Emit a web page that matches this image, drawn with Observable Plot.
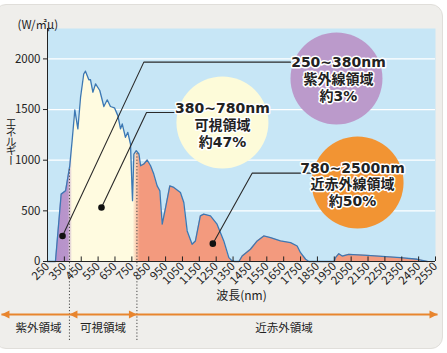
<!DOCTYPE html>
<html><head><meta charset="utf-8">
<script src="https://cdn.jsdelivr.net/npm/d3@7"></script>
<script src="https://cdn.jsdelivr.net/npm/@observablehq/plot@0.6"></script>
<style>
body{margin:0;background:#fff;font-family:"Noto Sans CJK JP","Noto Sans",sans-serif;}
#wrap{position:relative;width:447px;height:353px;overflow:hidden;background:#fff;}
#card{position:absolute;left:-6px;top:4px;width:449px;height:345px;border-radius:12px;background:#efeeeb;border:1px solid #e0deda;box-sizing:border-box;}
#chart{position:absolute;left:0;top:0;}
#ylab{position:absolute;left:5px;top:117px;writing-mode:vertical-rl;font-size:11px;color:#222;letter-spacing:-1.5px;line-height:11px;font-family:"Noto Sans CJK JP",sans-serif;}
</style></head><body>
<div id="wrap"><div id="card"></div><div id="chart"></div><div id="ylab">エネルギー</div></div>
<script>
// Spectrum (wavelength nm, energy W/㎡μ)
const wavelength = [250, 297, 331, 357, 382, 396, 412, 430, 446, 465, 475, 495, 505, 519, 535, 560, 584, 604, 623, 647, 667, 683, 693, 712, 726, 742, 748, 754, 762, 776, 792, 802, 821, 841, 861, 880, 900, 916, 930, 950, 975, 999, 1038, 1058, 1078, 1107, 1127, 1156, 1176, 1216, 1255, 1295, 1325, 1345, 1360, 1385, 1404, 1453, 1493, 1532, 1572, 1631, 1691, 1730, 1750, 1780, 1800, 1950, 1957, 1977, 1997, 2036, 2145, 2343, 2442, 2501];
const energy = [0, 0, 665, 698, 945, 1193, 1497, 1309, 1622, 1853, 1879, 1794, 1794, 1671, 1754, 1688, 1530, 1596, 1530, 1517, 1440, 1309, 1358, 1226, 1275, 1160, 870, 600, 1061, 1094, 1061, 945, 962, 1002, 945, 863, 747, 698, 368, 533, 747, 731, 681, 582, 302, 170, 203, 450, 467, 450, 368, 203, 38, 5, 0, 0, 54, 121, 203, 252, 236, 203, 186, 153, 87, 22, 0, 0, 38, 77, 54, 71, 61, 38, 22, 0];

const xTicks = [250, 350, 450, 550, 650, 750, 850, 950, 1050, 1150, 1250, 1350, 1450, 1550, 1650, 1750, 1850, 1950, 2050, 2150, 2250, 2350, 2450, 2550];
const yTicks = [0, 500, 1000, 1500, 2000];

// region boundaries (nm) and curve height at them
const boundaryNm = [380, 780];
const boundaryE = [918, 1079];

// bubbles
const bubbleText = ["250~380nm\n紫外線領域\n約3%", "380~780nm\n可視領域\n約47%", "780~2500nm\n近赤外線領域\n約50%"];
const bubbleNm = [1963, 1287, 2088];
const bubbleE = [1806, 1372, 780];
const bubbleTextNm = [1975, 1287, 2058];
const bubbleTextE = [1806, 1352, 765];

// leader lines: dot -> corner -> end
const leaderDotNm = [339, 570, 1230];
const leaderDotE = [252, 533, 176];
const leaderCornerNm = [821, 837, 1463];
const leaderCornerE = [1968, 1471, 872];
const leaderEndNm = [1690, 1009, 1821];

// bottom region bar
const regionNames = ["紫外領域", "可視領域", "近赤外領域"];
const regionLabelNm = [197, 579, 1652];
const barStartNm = -23, barEndNm = 2562;

const spectrum = wavelength.map((nm, i) => ({nm, e: energy[i]}));
const boundaries = boundaryNm.map((nm, i) => ({nm, e: boundaryE[i]}));
const bubbles = bubbleText.map((t, i) => ({t, nm: bubbleNm[i], e: bubbleE[i], tnm: bubbleTextNm[i], te: bubbleTextE[i]}));
const leaderPts = [];
leaderDotNm.forEach((nm, i) => {
  leaderPts.push({id: i, nm, e: leaderDotE[i]});
  leaderPts.push({id: i, nm: leaderCornerNm[i], e: leaderCornerE[i]});
  leaderPts.push({id: i, nm: leaderEndNm[i], e: leaderCornerE[i]});
});
const leaderDots = leaderDotNm.map((nm, i) => ({nm, e: leaderDotE[i]}));
const regions = regionNames.map((name, i) => ({name, nm: regionLabelNm[i]}));
const barSeg = [{a: barStartNm, b: barEndNm}];
const heads = [{nm: barStartNm, dir: "l"}, {nm: boundaryNm[0], dir: "l"}, {nm: boundaryNm[1], dir: "r"}, {nm: barEndNm, dir: "r"}];

const triRight = {draw(ctx, size) { const r = Math.sqrt(size / Math.PI); ctx.moveTo(r, 0); ctx.lineTo(-r, -r); ctx.lineTo(-r, r); ctx.closePath(); }};
const triLeft = {draw(ctx, size) { const r = Math.sqrt(size / Math.PI); ctx.moveTo(-r, 0); ctx.lineTo(r, -r); ctx.lineTo(r, r); ctx.closePath(); }};

const orange = "#e8852e";
const bubbleFill = ["#bb9acb", "#fdfbd9", "#f29433"];
const barY = () => -523;

const chart = Plot.plot({
  width: 447, height: 353,
  marginLeft: 47, marginRight: 12, marginTop: 28, marginBottom: 92,
  style: {background: "transparent", fontSize: "11.5px", color: "#222", fontFamily: "'Noto Sans CJK JP', 'Noto Sans', sans-serif"},
  x: {domain: [250, 2550], ticks: xTicks, tickRotate: -45, tickSize: 0, tickPadding: 3, tickFormat: d => String(d), label: null},
  y: {domain: [0, 2300], ticks: yTicks, tickSize: 4, tickPadding: 3, tickFormat: d => String(d), label: null},
  marks: [
    Plot.frame({fill: "#c7e6f6", stroke: "none"}),
    Plot.ruleY(yTicks.filter(d => d > 0), {stroke: "white", strokeWidth: 1.2}),
    Plot.areaY(spectrum, {x: "nm", y: "e", fill: "#fffbe0"}),
    Plot.lineY(spectrum, {x: "nm", y: "e", stroke: "#3c78b4", strokeWidth: 1.3}),
    Plot.ruleX(boundaries, {x: "nm", y1: () => -780, y2: "e", stroke: "#444", strokeWidth: 1, strokeDasharray: "1.2,2"}),
    Plot.line(leaderPts, {x: "nm", y: "e", z: "id", stroke: "#2a2a2a", strokeWidth: 1.1}),
    Plot.dot(leaderDots, {x: "nm", y: "e", r: 3.3, fill: "#111"}),
    ...bubbles.map((b, i) => Plot.dot([b], {x: "nm", y: "e", r: 46, fill: bubbleFill[i]})),
    Plot.text(bubbles, {x: "tnm", y: "te", text: "t", fontSize: 14, fontWeight: "bold", lineHeight: 1.19, fill: "#222", stroke: "white", strokeWidth: 3, paintOrder: "stroke", fontFamily: "'DejaVu Sans', 'Noto Sans CJK JP', sans-serif"}),
    Plot.ruleX([250], {stroke: "#222"}),
    Plot.ruleY([0], {stroke: "#222"}),
    Plot.ruleX(xTicks, {y1: () => 0, y2: () => 45, stroke: "#222"}),
    Plot.text(["(W/㎡μ)"], {frameAnchor: "top-left", dx: -30, dy: -8, textAnchor: "start", fontSize: 11.5}),
    Plot.text([{nm: 1400, t: "波長(nm)"}], {x: "nm", text: "t", frameAnchor: "bottom", dy: 38, fontSize: 12}),
    Plot.link(barSeg, {x1: "a", x2: "b", y1: barY, y2: barY, stroke: orange, strokeWidth: 2}),
    Plot.dot(heads.filter(h => h.dir === "r"), {x: "nm", y: barY, r: 4, dx: -4, symbol: triRight, fill: orange, stroke: "none"}),
    Plot.dot(heads.filter(h => h.dir === "l"), {x: "nm", y: barY, r: 4, dx: 4, symbol: triLeft, fill: orange, stroke: "none"}),
    Plot.text(regions, {x: "nm", y: () => -661, text: "name", fontSize: 11.5})
  ]
});

// gradient fill for spectral regions
const xs = chart.scale("x");
const px = v => xs.apply ? xs.apply(v) : xs.range[0] + (v - xs.domain[0]) / (xs.domain[1] - xs.domain[0]) * (xs.range[1] - xs.range[0]);
const svg = d3.select(chart.tagName === "svg" ? chart : chart.querySelector("svg"));
const grad = svg.insert("defs", ":first-child").append("linearGradient")
  .attr("id", "specGrad").attr("gradientUnits", "userSpaceOnUse")
  .attr("x1", px(250)).attr("x2", px(2550)).attr("y1", 0).attr("y2", 0);
[[250, "#b48fca"], [372, "#b995cb"], [398, "#fffbe0"], [758, "#fffbe0"], [800, "#f39a7e"], [2550, "#f39a7e"]]
  .forEach(([nm, c]) => grad.append("stop").attr("offset", (nm - 250) / 2300).attr("stop-color", c));
svg.selectAll('g[aria-label="area"] path').attr("fill", "url(#specGrad)");

document.getElementById("chart").appendChild(chart);
</script>
</body></html>
